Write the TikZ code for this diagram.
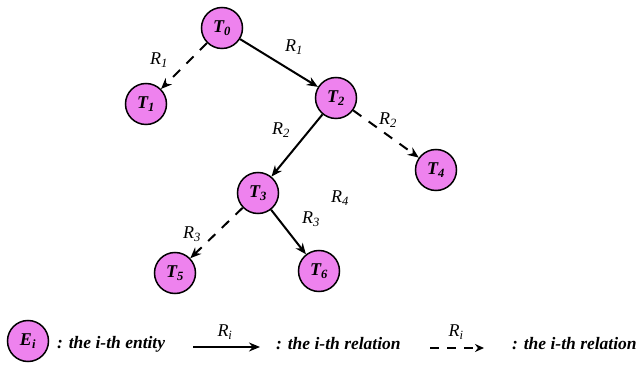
\documentclass[tikz,border=0pt]{standalone}
\usepackage{fontspec}
\setmainfont{Liberation Serif}
\usetikzlibrary{arrows.meta}
\definecolor{entpink}{RGB}{238,130,238}
\newcommand\mysub[1]{\textsubscript{#1}}
\tikzset{
  ent/.style={circle,draw=black,line width=1.5pt,fill=entpink,minimum size=41pt,inner sep=0pt,
    font=\fontsize{18}{20}\selectfont\bfseries\itshape},
  rel/.style={line width=2pt,-{Stealth[length=11pt,width=9pt]}},
  reld/.style={rel,dash pattern=on 10pt off 9pt},
  lab/.style={font=\fontsize{18}{20}\selectfont\itshape},
  txt/.style={font=\fontsize{17.5}{20}\selectfont\bfseries\itshape,anchor=west,inner sep=0pt}
}
\begin{document}
\begin{tikzpicture}[x=1pt,y=-1pt]
\useasboundingbox (0,0) rectangle (638,366);
\node[ent] (t0) at (222,28) {T\mysub{0}};
\node[ent] (t1) at (146,104) {T\mysub{1}};
\node[ent] (t2) at (336,98) {T\mysub{2}};
\node[ent] (t4) at (436,170) {T\mysub{4}};
\node[ent] (t3) at (258,193) {T\mysub{3}};
\node[ent] (t5) at (175,273) {T\mysub{5}};
\node[ent] (t6) at (319,271) {T\mysub{6}};
\draw[reld] (t0) -- (t1);
\draw[rel] (t0) -- (t2);
\draw[rel] (t2) -- (t3);
\draw[reld] (t2) -- (t4);
\draw[reld] (t3) -- (t5);
\draw[rel] (t3) -- (t6);
\node[lab] (l1) at (159,60) {R\mysub{1}};
\node[lab] (l2) at (294,47) {R\mysub{1}};
\node[lab] (l3) at (281,130) {R\mysub{2}};
\node[lab] (l4) at (388,120) {R\mysub{2}};
\node[lab] (l5) at (340,198) {R\mysub{4}};
\node[lab] (l6) at (311,219) {R\mysub{3}};
\node[lab] (l7) at (192,234) {R\mysub{3}};
% legend
\node[ent] (e) at (28,341) {E\mysub{i}};
\node[txt] (t_e) at (57,344) {: the i-th entity};
\coordinate (a1) at (193,347);
\coordinate (a2) at (260,347);
\draw[rel] (a1) -- (a2);
\node[lab] (la) at (225,332) {R\mysub{i}};
\node[txt] (t_r1) at (276,344) {: the i-th relation};
\coordinate (b1) at (430,348);
\coordinate (b2) at (484,348);
\draw[line width=2pt,dash pattern=on 9pt off 8pt,-{Stealth[length=9pt,width=8pt]}] (b1) -- (b2);
\node[lab] (lb) at (456,332) {R\mysub{i}};
\node[txt] (t_r2) at (512,344) {: the i-th relation};
\end{tikzpicture}
\end{document}
